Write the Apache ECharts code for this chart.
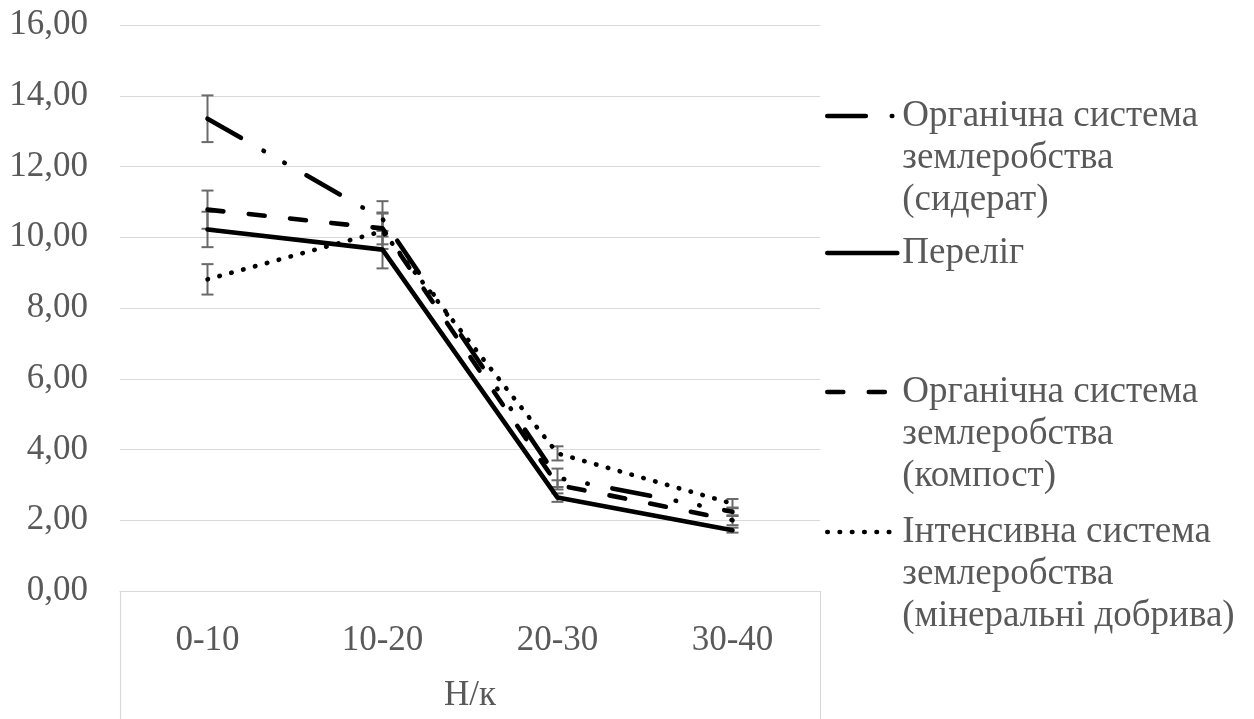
<!DOCTYPE html>
<html>
<head>
<meta charset="utf-8">
<style>
  html, body { margin: 0; padding: 0; background: #fff; }
  #chart { width: 1254px; height: 719px; }
</style>
<script src="https://cdn.jsdelivr.net/npm/echarts@6/dist/echarts.min.js"></script>
</head>
<body>
<div id="chart"></div>
<script>
// Depth layers (cm)
const categories = ['0-10', '10-20', '20-30', '30-40'];
const groupLabel = ['Н/к'];

// Series names
const nameSiderat = 'Органічна система землеробства (сидерат)';
const nameFallow = 'Переліг';
const nameCompost = 'Органічна система землеробства (компост)';
const nameMineral = 'Інтенсивна система землеробства (мінеральні добрива)';

// Legend text, one entry per line
const legendLines = {};
legendLines[nameSiderat] = ['Органічна система', 'землеробства', '(сидерат)'];
legendLines[nameFallow] = ['Переліг'];
legendLines[nameCompost] = ['Органічна система', 'землеробства', '(компост)'];
legendLines[nameMineral] = ['Інтенсивна система', 'землеробства', '(мінеральні добрива)'];

// Mean values per layer
const siderat = [13.35, 10.52, 3.20, 2.24];
const fallow  = [10.22, 9.65, 2.64, 1.72];
const compost = [10.78, 10.25, 3.00, 2.00];
const mineral = [8.81, 10.17, 3.89, 2.47];

// Error margins (±)
const sideratErr = [0.66, 0.50, 0.26, 0.12];
const fallowErr  = [0.50, 0.53, 0.12, 0.07];
const compostErr = [0.54, 0.45, 0.13, 0.14];
const mineralErr = [0.43, 0.50, 0.20, 0.13];

// Y axis ticks
const yMin = 0, yMax = 16, yStep = 2;

const FONT = 'Liberation Serif';
const TXT = '#595959';
const GRID = '#d9d9d9';

const chart = echarts.init(document.getElementById('chart'), null, { renderer: 'canvas' });

function errData(vals, errs) {
  return vals.map((v, i) => [i, v - errs[i], v + errs[i]]);
}

function errorSeries(vals, errs) {
  return {
    type: 'custom',
    z: 1,
    silent: true,
    encode: { x: 0, y: [1, 2] },
    data: errData(vals, errs),
    renderItem: function (params, api) {
      const lo = api.coord([api.value(0), api.value(1)]);
      const hi = api.coord([api.value(0), api.value(2)]);
      const hw = 6;
      const style = { stroke: '#6a6a6a', lineWidth: 2 };
      return {
        type: 'group',
        children: [
          { type: 'line', shape: { x1: lo[0], y1: lo[1], x2: hi[0], y2: hi[1] }, style },
          { type: 'line', shape: { x1: lo[0] - hw, y1: lo[1], x2: lo[0] + hw, y2: lo[1] }, style },
          { type: 'line', shape: { x1: hi[0] - hw, y1: hi[1], x2: hi[0] + hw, y2: hi[1] }, style }
        ]
      };
    }
  };
}

function lineSeries(name, vals, dash) {
  return {
    name: name,
    type: 'line',
    z: 3,
    data: vals,
    symbol: 'none',
    silent: true,
    itemStyle: { color: '#000' },
    lineStyle: { color: '#000', width: 4.6, type: dash, cap: 'round', join: 'round' }
  };
}

const DASH_SIDERAT = [38.5, 26, 0.5, 23.5, 0.5, 25];
const DASH_COMPOST = [16, 25.5];
const DASH_MINERAL = [0.5, 11.8];

// One legend block per series; the key sits beside the first text line.
function legendFor(name, top) {
  return {
    data: [name],
    orient: 'vertical',
    left: 825,
    top: top,
    padding: 0,
    itemWidth: 70,
    itemHeight: 14,
    selectedMode: false,
    itemStyle: { opacity: 0 },
    lineStyle: { width: 4.6, color: '#000' },
    textStyle: { fontFamily: FONT, fontSize: 37, color: TXT, lineHeight: 42 },
    formatter: function (n) {
      const lines = legendLines[n];
      const pad = [];
      for (let i = 1; i < lines.length; i++) pad.push(' ');
      return pad.concat(lines).join('\n');
    }
  };
}

const option = {
  backgroundColor: '#fff',
  animation: false,
  grid: { left: 120, right: 434, top: 25, bottom: 128, containLabel: false },
  legend: [
    legendFor(nameSiderat, 11),
    legendFor(nameFallow, 232),
    legendFor(nameCompost, 287),
    legendFor(nameMineral, 427)
  ],
  xAxis: [
    {
      type: 'category',
      data: categories,
      boundaryGap: true,
      axisLine: { show: true, lineStyle: { color: GRID, width: 1.2 } },
      axisTick: { show: false },
      axisLabel: { fontFamily: FONT, fontSize: 35, color: TXT, margin: 32 }
    },
    {
      type: 'category',
      data: groupLabel,
      position: 'bottom',
      boundaryGap: true,
      axisLine: { show: false },
      axisTick: { show: true, length: 130, lineStyle: { color: GRID, width: 1.2 } },
      axisLabel: { fontFamily: FONT, fontSize: 35, color: TXT, margin: 87 }
    }
  ],
  yAxis: {
    type: 'value',
    min: yMin, max: yMax, interval: yStep,
    axisLine: { show: false },
    axisTick: { show: false },
    splitLine: { lineStyle: { color: GRID, width: 1.2 } },
    axisLabel: {
      fontFamily: FONT, fontSize: 35, color: TXT, margin: 32,
      formatter: v => v.toFixed(2).replace('.', ',')
    }
  },
  series: [
    errorSeries(siderat, sideratErr),
    errorSeries(fallow, fallowErr),
    errorSeries(compost, compostErr),
    errorSeries(mineral, mineralErr),
    lineSeries(nameSiderat, siderat, DASH_SIDERAT),
    lineSeries(nameFallow, fallow, 'solid'),
    lineSeries(nameCompost, compost, DASH_COMPOST),
    lineSeries(nameMineral, mineral, DASH_MINERAL)
  ]
};

chart.setOption(option);
</script>
</body>
</html>
